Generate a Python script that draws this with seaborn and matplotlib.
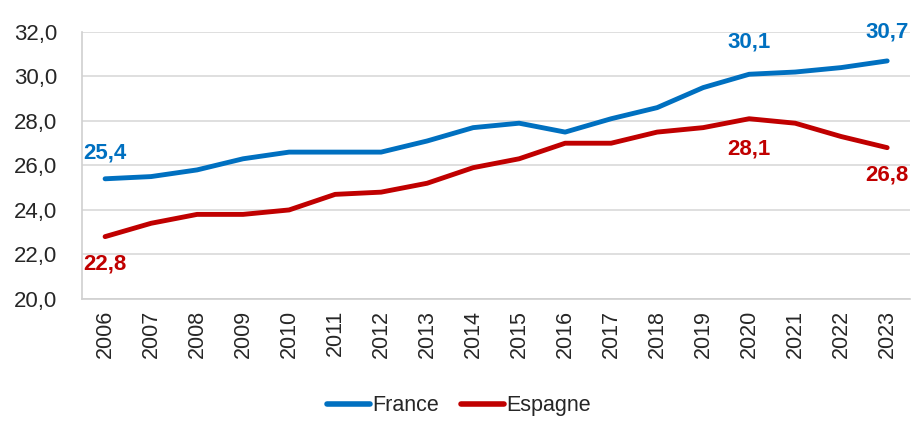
import matplotlib
matplotlib.use('Agg')
import matplotlib.pyplot as plt
from matplotlib.ticker import FixedLocator, FuncFormatter
import pandas as pd
import seaborn as sns

years = list(range(2006, 2024))
france = [25.4, 25.5, 25.8, 26.3, 26.6, 26.6, 26.6, 27.1, 27.7, 27.9, 27.5, 28.1, 28.6, 29.5, 30.1, 30.2, 30.4, 30.7]
espagne = [22.8, 23.4, 23.8, 23.8, 24.0, 24.7, 24.8, 25.2, 25.9, 26.3, 27.0, 27.0, 27.5, 27.7, 28.1, 27.9, 27.3, 26.8]
series_names = ['France', 'Espagne']
colors = {'France': '#0070C0', 'Espagne': '#C00000'}

# years whose values get a label: (index, offset for France, offset for Espagne) in points
labelled = [(0, 11, -12), (14, 16, -14), (17, 13, -12)]

sns.set_style('white')
plt.rcParams['font.family'] = ['Liberation Sans', 'DejaVu Sans']

df = pd.DataFrame({
    'pos': list(range(len(years))) * 2,
    'value': france + espagne,
    'serie': ['France'] * len(years) + ['Espagne'] * len(years),
})

fig = plt.figure(figsize=(9.12, 4.21), dpi=100)
ax = fig.add_axes([0.09, 0.29, 0.908, 0.634])
sns.lineplot(data=df, x='pos', y='value', hue='serie', hue_order=series_names,
             palette=colors, linewidth=3.5, ax=ax, legend=True)

ax.set_xlim(-0.5, len(years) - 0.5)
ax.set_ylim(20, 32)
ax.set_yticks([20, 22, 24, 26, 28, 30, 32])
ax.yaxis.set_major_formatter(FuncFormatter(lambda v, p: f'{v:.1f}'.replace('.', ',')))
ax.set_xticks(range(len(years)))
ax.set_xticklabels([str(y) for y in years], rotation=90)
ax.xaxis.set_minor_locator(FixedLocator([i + 0.5 for i in range(-1, len(years))]))
ax.tick_params(axis='x', which='major', length=0, pad=8, labelsize=15.5)
ax.tick_params(axis='x', which='minor', length=7, color='#D0D0D0', width=1)
ax.tick_params(axis='y', length=0, labelsize=16, pad=18)
ax.set_xlabel('')
ax.set_ylabel('')
ax.grid(axis='y', color='#D9D9D9', linewidth=1.2)
for side in ['top', 'right']:
    ax.spines[side].set_visible(False)
for side in ['left', 'bottom']:
    ax.spines[side].set_color('#D0D0D0')
    ax.spines[side].set_linewidth(1.2)

# data labels
for i, off_fr, off_es in labelled:
    ax.annotate(f'{france[i]:.1f}'.replace('.', ','), (i, france[i]), xytext=(0, off_fr),
                textcoords='offset points', ha='center', va='bottom',
                color=colors['France'], fontsize=16, fontweight='bold')
    ax.annotate(f'{espagne[i]:.1f}'.replace('.', ','), (i, espagne[i]), xytext=(0, off_es),
                textcoords='offset points', ha='center', va='top',
                color=colors['Espagne'], fontsize=16, fontweight='bold')

leg = ax.legend(loc='center', bbox_to_anchor=(0.455, -0.4), ncol=2, frameon=False,
                fontsize=15.5, handlelength=2.0, handletextpad=0.1, columnspacing=1.0)
for line in leg.get_lines():
    line.set_linewidth(4)

fig.savefig('out.png', dpi=100)
